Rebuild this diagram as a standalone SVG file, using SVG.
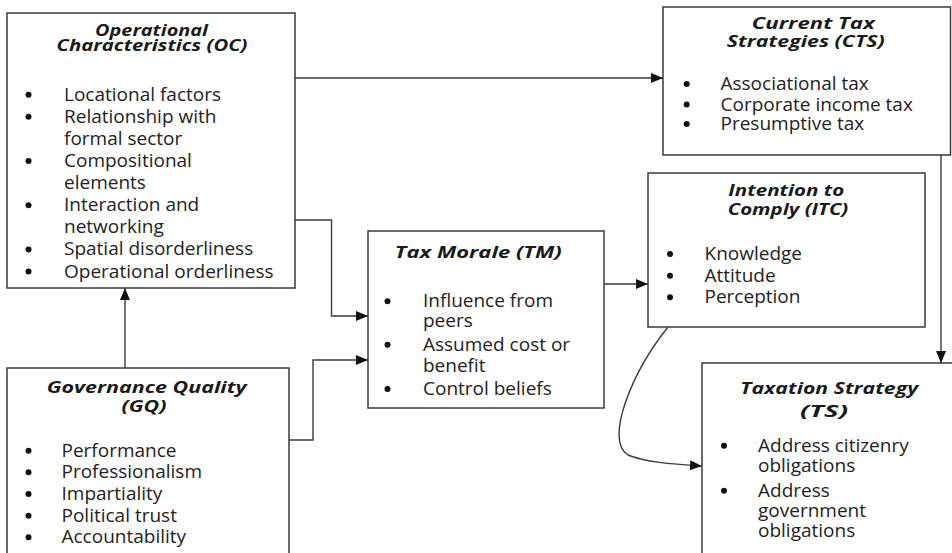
<svg xmlns="http://www.w3.org/2000/svg" width="952" height="553" viewBox="0 0 952 553">
<defs>
<marker id="arr" markerUnits="userSpaceOnUse" markerWidth="13" markerHeight="11" refX="12" refY="5" orient="auto">
<path d="M0,0 L12,5 L0,10 z" fill="#111"/>
</marker>
<style>
.box{fill:#fff;stroke:#3a3a3a;stroke-width:1.5}
.h{font-family:"Open Sans","Liberation Sans",sans-serif;font-weight:bold;font-style:italic;font-size:16.5px;fill:#1a1a1a;text-anchor:middle}
.t{font-family:"Open Sans","Liberation Sans",sans-serif;font-size:19px;fill:#222}
.b{fill:#111}
.c{fill:none;stroke:#3a3a3a;stroke-width:1.4}
</style>
</defs>
<rect width="952" height="553" fill="#fff"/>

<g id="connectors">
<path class="c" d="M295,78 H663" marker-end="url(#arr)"/>
<path class="c" d="M295,220 H331.5 V316 H368" marker-end="url(#arr)"/>
<path class="c" d="M289,440 H313 V360 H368" marker-end="url(#arr)"/>
<path class="c" d="M125,368 V288" marker-end="url(#arr)"/>
<path class="c" d="M604,284 H648" marker-end="url(#arr)"/>
<path class="c" d="M941,155 V363" marker-end="url(#arr)"/>
<path class="c" d="M668,327 C632,372 604,440 628,455 C645,462 670,464 702,466" marker-end="url(#arr)"/>
</g>

<g id="oc">
<rect class="box" x="7" y="13" width="288" height="275"/>
<text class="h" x="151.5" y="35.7" textLength="113" lengthAdjust="spacingAndGlyphs">Operational</text>
<text class="h" x="152" y="51" textLength="191" lengthAdjust="spacingAndGlyphs">Characteristics (OC)</text>
<circle class="b" cx="28.5" cy="94.7" r="3"/><text class="t" x="64" y="100.7">Locational factors</text>
<circle class="b" cx="28.5" cy="116.8" r="3"/><text class="t" x="64" y="122.8">Relationship with</text>
<text class="t" x="64" y="144.9">formal sector</text>
<circle class="b" cx="28.5" cy="161" r="3"/><text class="t" x="64" y="167">Compositional</text>
<text class="t" x="64" y="189.1">elements</text>
<circle class="b" cx="28.5" cy="205.2" r="3"/><text class="t" x="64" y="211.2">Interaction and</text>
<text class="t" x="64" y="233.3">networking</text>
<circle class="b" cx="28.5" cy="249.4" r="3"/><text class="t" x="64" y="255.4">Spatial disorderliness</text>
<circle class="b" cx="28.5" cy="271.5" r="3"/><text class="t" x="64" y="277.5">Operational orderliness</text>
</g>

<g id="gq">
<rect class="box" x="7" y="368" width="282" height="200"/>
<text class="h" x="146.7" y="393" textLength="200" lengthAdjust="spacingAndGlyphs">Governance Quality</text>
<text class="h" x="144" y="412" textLength="45" lengthAdjust="spacingAndGlyphs">(GQ)</text>
<circle class="b" cx="28.5" cy="450.7" r="3"/><text class="t" x="61.5" y="456.7">Performance</text>
<circle class="b" cx="28.5" cy="472.3" r="3"/><text class="t" x="61.5" y="478.3">Professionalism</text>
<circle class="b" cx="28.5" cy="494" r="3"/><text class="t" x="61.5" y="500">Impartiality</text>
<circle class="b" cx="28.5" cy="515.7" r="3"/><text class="t" x="61.5" y="521.7">Political trust</text>
<circle class="b" cx="28.5" cy="537.3" r="3"/><text class="t" x="61.5" y="543.3">Accountability</text>
</g>

<g id="tm">
<rect class="box" x="368" y="231" width="236" height="177"/>
<text class="h" x="478.3" y="258" textLength="167" lengthAdjust="spacingAndGlyphs">Tax Morale (TM)</text>
<circle class="b" cx="387.5" cy="301.3" r="3"/><text class="t" x="423" y="307.3">Influence from</text>
<text class="t" x="423" y="327.3">peers</text>
<circle class="b" cx="387.5" cy="344.7" r="3"/><text class="t" x="423" y="350.7">Assumed cost or</text>
<text class="t" x="423" y="371.7">benefit</text>
<circle class="b" cx="387.5" cy="389" r="3"/><text class="t" x="423" y="395">Control beliefs</text>
</g>

<g id="cts">
<rect class="box" x="663" y="7" width="287.5" height="148"/>
<text class="h" x="813.3" y="29.3" textLength="123" lengthAdjust="spacingAndGlyphs">Current Tax</text>
<text class="h" x="805.8" y="46.7" textLength="158" lengthAdjust="spacingAndGlyphs">Strategies (CTS)</text>
<circle class="b" cx="686.7" cy="84" r="3"/><text class="t" x="720.5" y="90">Associational tax</text>
<circle class="b" cx="686.7" cy="104.5" r="3"/><text class="t" x="720.5" y="110.5">Corporate income tax</text>
<circle class="b" cx="686.7" cy="124" r="3"/><text class="t" x="720.5" y="130">Presumptive tax</text>
</g>

<g id="itc">
<rect class="box" x="648" y="173" width="277" height="154"/>
<text class="h" x="786.3" y="196" textLength="116" lengthAdjust="spacingAndGlyphs">Intention to</text>
<text class="h" x="788" y="215" textLength="120.6" lengthAdjust="spacingAndGlyphs">Comply (ITC)</text>
<circle class="b" cx="670" cy="254" r="3"/><text class="t" x="704.5" y="260">Knowledge</text>
<circle class="b" cx="670" cy="275.7" r="3"/><text class="t" x="704.5" y="281.7">Attitude</text>
<circle class="b" cx="670" cy="297.3" r="3"/><text class="t" x="704.5" y="303.3">Perception</text>
</g>

<g id="ts">
<rect class="box" x="702" y="363" width="270" height="210"/>
<text class="h" x="829.2" y="394" textLength="178" lengthAdjust="spacingAndGlyphs">Taxation Strategy</text>
<text class="h" x="824" y="417" textLength="48" lengthAdjust="spacingAndGlyphs">(TS)</text>
<circle class="b" cx="724" cy="445.7" r="3"/><text class="t" x="758" y="451.7">Address citizenry</text>
<text class="t" x="758" y="471.7">obligations</text>
<circle class="b" cx="724" cy="490.7" r="3"/><text class="t" x="758" y="496.7">Address</text>
<text class="t" x="758" y="516.7">government</text>
<text class="t" x="758" y="536.7">obligations</text>
</g>
</svg>
